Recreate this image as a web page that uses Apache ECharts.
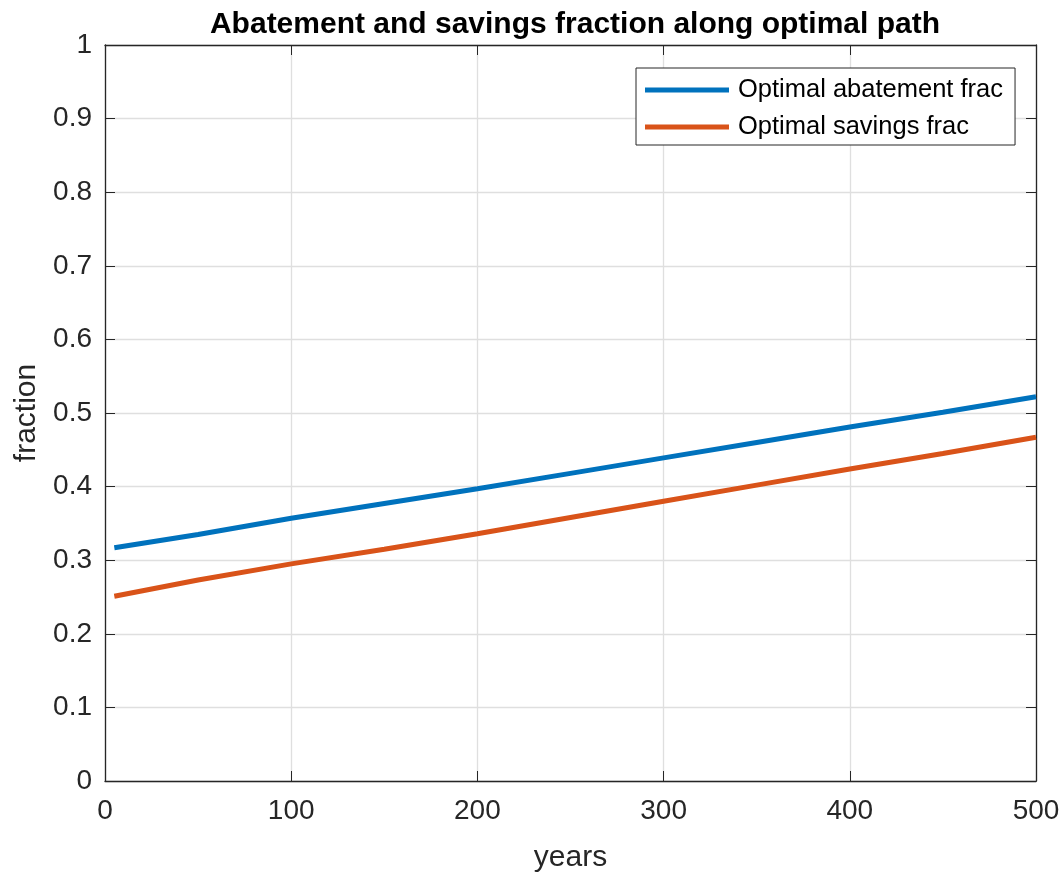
<!DOCTYPE html>
<html>
<head>
<meta charset="utf-8">
<script src="https://cdn.jsdelivr.net/npm/echarts@6/dist/echarts.min.js"></script>
<style>
  html, body { margin: 0; padding: 0; background: #fff; }
  #chart { width: 1063px; height: 872px; }
</style>
</head>
<body>
<div id="chart"></div>
<script>
// values
var years = [5, 50, 100, 150, 200, 250, 300, 350, 400, 450, 500];
var abatement = [0.317, 0.335, 0.357, 0.377, 0.397, 0.418, 0.439, 0.460, 0.481, 0.501, 0.522];
var savings = [0.251, 0.273, 0.295, 0.315, 0.336, 0.358, 0.380, 0.402, 0.424, 0.445, 0.467];
var seriesNames = ['Optimal abatement frac', 'Optimal savings frac'];

var font = "'Liberation Sans', Arial, Helvetica, sans-serif";
var axisColor = '#262626';

function pairs(xs, ys) {
  return xs.map(function (x, i) { return [x, ys[i]]; });
}

var myChart = echarts.init(document.getElementById('chart'));

var options = {
  backgroundColor: '#fff',
  animation: false,
  title: {
    text: 'Abatement and savings fraction along optimal path',
    left: 570,
    textAlign: 'center',
    top: 5,
    textStyle: { fontFamily: font, fontSize: 30, fontWeight: 'bold', color: '#000' }
  },
  legend: {
    data: seriesNames,
    orient: 'vertical',
    left: 636,
    top: 68,
    padding: [9, 12, 5, 9],
    itemGap: 11,
    itemWidth: 84,
    itemHeight: 5,
    icon: 'rect',
    borderColor: axisColor,
    borderWidth: 1,
    backgroundColor: '#fff',
    textStyle: { fontFamily: font, fontSize: 25.5, color: '#000', lineHeight: 26, padding: [0, 0, 0, 4] }
  },
  grid: { left: 105, right: 27, top: 45, bottom: 91, containLabel: false, outerBoundsMode: 'none' },
  xAxis: [{
    type: 'value',
    min: 0, max: 500, interval: 100,
    position: 'bottom',
    name: 'years',
    nameLocation: 'middle',
    nameGap: 62,
    nameTextStyle: { fontFamily: font, fontSize: 30, color: axisColor },
    axisLine: { show: true, onZero: false, lineStyle: { color: axisColor, width: 1.3 } },
    axisTick: { show: true, inside: true, length: 10, lineStyle: { color: axisColor } },
    axisLabel: { fontFamily: font, fontSize: 28, color: axisColor, margin: 16 },
    splitLine: { show: true, lineStyle: { color: '#dfdfdf', width: 1.3 } }
  }, {
    type: 'value',
    min: 0, max: 500, interval: 100,
    position: 'top',
    axisLine: { show: true, onZero: false, lineStyle: { color: axisColor, width: 1.3 } },
    axisTick: { show: true, inside: true, length: 10, lineStyle: { color: axisColor } },
    axisLabel: { show: false },
    splitLine: { show: false }
  }],
  yAxis: [{
    type: 'value',
    min: 0, max: 1, interval: 0.1,
    position: 'left',
    name: 'fraction',
    nameLocation: 'middle',
    nameGap: 61,
    nameTextStyle: { fontFamily: font, fontSize: 30, color: axisColor },
    axisLine: { show: true, onZero: false, lineStyle: { color: axisColor, width: 1.3 } },
    axisTick: { show: true, inside: true, length: 10, lineStyle: { color: axisColor } },
    axisLabel: {
      fontFamily: font, fontSize: 28, color: axisColor, margin: 13,
      formatter: function (v) { return Math.round(v * 10) / 10 + ''; }
    },
    splitLine: { show: true, lineStyle: { color: '#dfdfdf', width: 1.3 } }
  }, {
    type: 'value',
    min: 0, max: 1, interval: 0.1,
    position: 'right',
    axisLine: { show: true, onZero: false, lineStyle: { color: axisColor, width: 1.3 } },
    axisTick: { show: true, inside: true, length: 10, lineStyle: { color: axisColor } },
    axisLabel: { show: false },
    splitLine: { show: false }
  }],
  series: [{
    name: seriesNames[0],
    type: 'line',
    data: pairs(years, abatement),
    symbol: 'none',
    itemStyle: { color: '#0072BD' },
    lineStyle: { color: '#0072BD', width: 5 }
  }, {
    name: seriesNames[1],
    type: 'line',
    data: pairs(years, savings),
    symbol: 'none',
    itemStyle: { color: '#D95319' },
    lineStyle: { color: '#D95319', width: 5 }
  }]
};

myChart.setOption(options);
</script>
</body>
</html>
